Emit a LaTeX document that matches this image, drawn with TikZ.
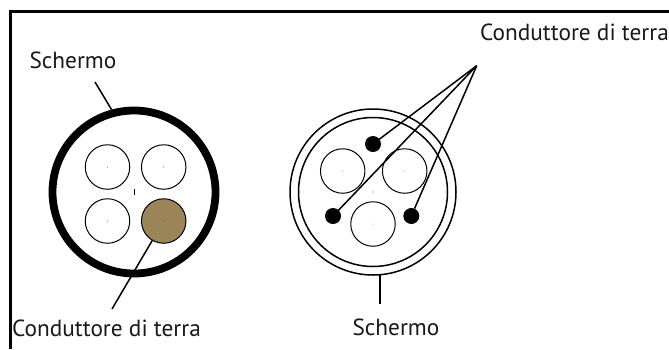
\documentclass[tikz,border=0pt]{standalone}
\usepackage{fontspec}
\setmainfont{PT Sans}
\definecolor{earth}{HTML}{9C8459}
\tikzset{
 px/.style={x=1pt,y=-1pt},
 wire/.style={circle,draw=black,line width=1pt,minimum size=44.5pt,inner sep=0pt,outer sep=0pt},
 earthdot/.style={circle,fill=black,minimum size=16pt,inner sep=0pt,outer sep=0pt},
 ring/.style={circle,draw=black,inner sep=0pt,outer sep=0pt},
 centredot/.style={circle,fill=black!70,minimum size=1pt,inner sep=0pt},
 lead/.style={line width=1.5pt,black},
 lab/.style={font=\fontsize{23.3}{26}\selectfont,text=black!90,inner sep=0pt,anchor=base}
}
\begin{document}
\begin{tikzpicture}[px]
\useasboundingbox (0,0) rectangle (669,349);
\fill[white] (0,0) rectangle (669,349);
% frame
\draw[line width=2.6pt] (669,11.5) -- (10.7,11.5) -- (10.7,349);
% left cable
\node[ring,line width=7.8pt,minimum size=163pt] (shieldL) at (134,192) {};
\node[wire] (a1) at (107.5,167) {};
\node[wire] (a2) at (163.7,167) {};
\node[wire] (a3) at (107.5,221) {};
\node[wire,fill=earth] (a4) at (163.7,221) {};
\foreach \n in {a1,a2,a3,a4}{\node[centredot] at (\n) {};}
\node[draw=none,fill=black,minimum width=0.8pt,minimum height=6pt,inner sep=0pt] (cL) at (134,192) {};
\coordinate (s1) at (95,82);
\coordinate (s2) at (111.5,109.5);
\coordinate (g1) at (112,309);
\draw[lead] (s1) -- (s2);
\draw[lead] (g1) -- (a4);
\node[lab] (t1) at (73,68) {Schermo};
\node[lab] (t2) at (106.5,336) {Conduttore di terra};
% right cable
\node[ring,line width=1.5pt,minimum size=166pt] (shieldO) at (373,192) {};
\node[ring,line width=1.5pt,minimum size=149pt] (shieldI) at (373,192) {};
\node[wire] (b1) at (342.7,171) {};
\node[wire] (b2) at (404.7,171) {};
\node[wire] (b3) at (373,224) {};
\foreach \n in {b1,b2,b3}{\node[centredot,fill=black!50] at (\n) {};}
\node[centredot,minimum size=1.4pt] (cR) at (373,192) {};
\node[earthdot] (d1) at (373,144) {};
\node[earthdot] (d2) at (333,216) {};
\node[earthdot] (d3) at (411.3,216) {};
\coordinate (apex) at (476.7,65.7);
\coordinate (s3) at (380,304);
\coordinate (s4) at (380,274.5);
\draw[lead] (apex) -- (d1);
\draw[lead] (apex) -- (d2);
\draw[lead] (apex) -- (d3);
\draw[lead] (s3) -- (s4);
\node[lab] (t3) at (396,335) {Schermo};
\node[lab] (t4) at (574.5,40.7) {Conduttore di terra};
\end{tikzpicture}
\end{document}
